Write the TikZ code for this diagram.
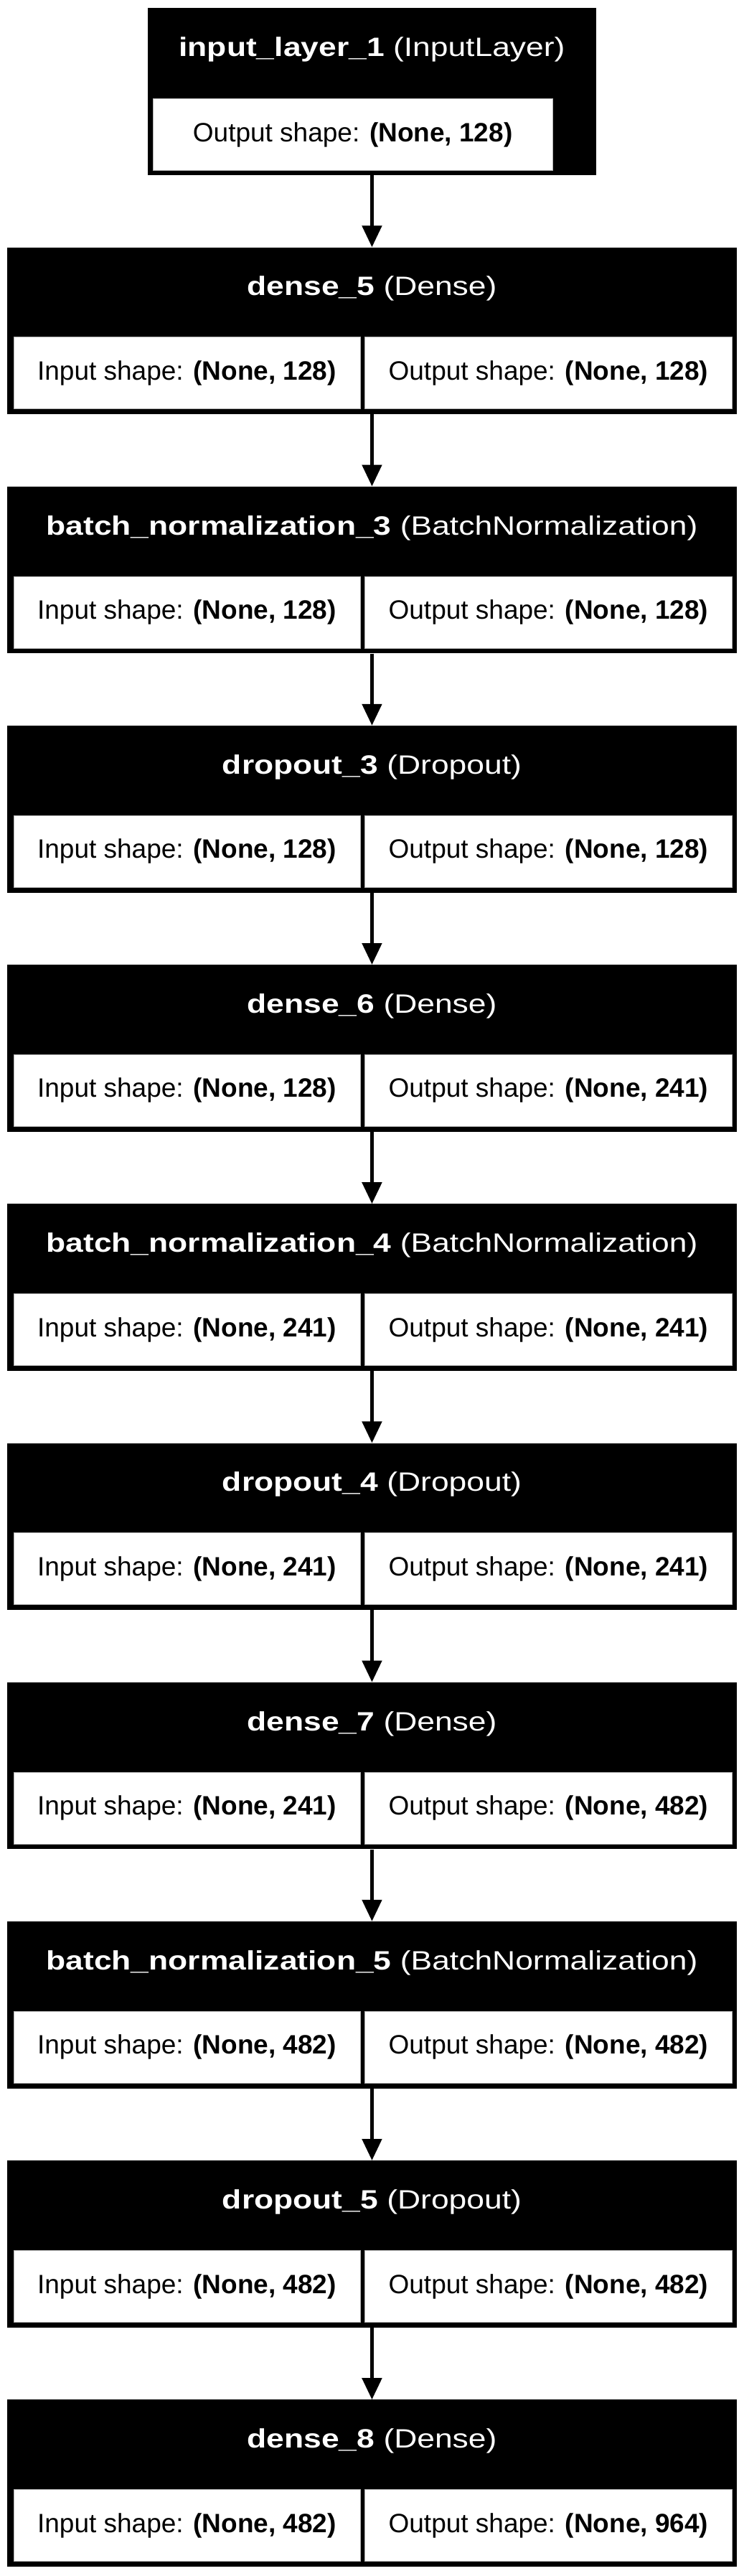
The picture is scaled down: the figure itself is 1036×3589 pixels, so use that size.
\documentclass[tikz,border=0pt]{standalone}
\usepackage{fontspec}
\setmainfont{Liberation Sans}
\usepackage{graphicx}
\usepackage{tikz}
\usetikzlibrary{calc,arrows.meta}

\newcommand{\lyrfont}{\fontsize{37}{44}\selectfont}
\newcommand{\shpfont}{\fontsize{37}{44}\selectfont}
\newcommand{\lyrname}[2]{\scalebox{1.2}[1]{\textbf{#1} (#2)}}

\tikzset{
  layerbox/.style={fill=black, inner sep=0pt, anchor=north west, minimum height=232.5pt},
  widebox/.style={layerbox, minimum width=1016.5pt},
  layername/.style={text=white, font=\lyrfont, inner sep=0pt},
  shapebox/.style={fill=white, draw=black!30, line width=0.8pt, inner sep=0pt,
    anchor=north west, minimum height=100pt, font=\shpfont},
  inbox/.style={shapebox, minimum width=483.2pt},
  outbox/.style={shapebox, minimum width=511.4pt},
  flow/.style={-{Triangle[length=30pt,width=27pt]}, line width=5pt}
}

\begin{document}
\begin{tikzpicture}[x=1pt,y=-1pt]
      \useasboundingbox (0,0) rectangle (1036,3589);

      \node[layerbox, minimum width=624.5pt] (L0) at (206,11.2) {};
      \node[layername] (T0) at ($(L0.north)+(0,58)$) {\lyrname{input\_layer\_1}{InputLayer}};
      \node[shapebox, minimum width=557pt] (O0) at ($(L0.north west)+(6.8,126)$)
        {Output shape: \textbf{(None, 128)}};

      \node[widebox] (L1) at (10,344.4) {};
      \node[layername] (T1) at ($(L1.north)+(0,58)$) {\lyrname{dense\_5}{Dense}};
      \node[inbox] (I1) at ($(L1.north west)+(8.5,125)$) {Input shape: \textbf{(None, 128)}};
      \node[outbox] (O1) at ($(L1.north west)+(498.3,125)$) {Output shape: \textbf{(None, 128)}};

      \node[widebox] (L2) at (10,677.6) {};
      \node[layername] (T2) at ($(L2.north)+(0,58)$) {\lyrname{batch\_normalization\_3}{BatchNormalization}};
      \node[inbox] (I2) at ($(L2.north west)+(8.5,125)$) {Input shape: \textbf{(None, 128)}};
      \node[outbox] (O2) at ($(L2.north west)+(498.3,125)$) {Output shape: \textbf{(None, 128)}};

      \node[widebox] (L3) at (10,1010.8) {};
      \node[layername] (T3) at ($(L3.north)+(0,58)$) {\lyrname{dropout\_3}{Dropout}};
      \node[inbox] (I3) at ($(L3.north west)+(8.5,125)$) {Input shape: \textbf{(None, 128)}};
      \node[outbox] (O3) at ($(L3.north west)+(498.3,125)$) {Output shape: \textbf{(None, 128)}};

      \node[widebox] (L4) at (10,1344.0) {};
      \node[layername] (T4) at ($(L4.north)+(0,58)$) {\lyrname{dense\_6}{Dense}};
      \node[inbox] (I4) at ($(L4.north west)+(8.5,125)$) {Input shape: \textbf{(None, 128)}};
      \node[outbox] (O4) at ($(L4.north west)+(498.3,125)$) {Output shape: \textbf{(None, 241)}};

      \node[widebox] (L5) at (10,1677.2) {};
      \node[layername] (T5) at ($(L5.north)+(0,58)$) {\lyrname{batch\_normalization\_4}{BatchNormalization}};
      \node[inbox] (I5) at ($(L5.north west)+(8.5,125)$) {Input shape: \textbf{(None, 241)}};
      \node[outbox] (O5) at ($(L5.north west)+(498.3,125)$) {Output shape: \textbf{(None, 241)}};

      \node[widebox] (L6) at (10,2010.4) {};
      \node[layername] (T6) at ($(L6.north)+(0,58)$) {\lyrname{dropout\_4}{Dropout}};
      \node[inbox] (I6) at ($(L6.north west)+(8.5,125)$) {Input shape: \textbf{(None, 241)}};
      \node[outbox] (O6) at ($(L6.north west)+(498.3,125)$) {Output shape: \textbf{(None, 241)}};

      \node[widebox] (L7) at (10,2343.6) {};
      \node[layername] (T7) at ($(L7.north)+(0,58)$) {\lyrname{dense\_7}{Dense}};
      \node[inbox] (I7) at ($(L7.north west)+(8.5,125)$) {Input shape: \textbf{(None, 241)}};
      \node[outbox] (O7) at ($(L7.north west)+(498.3,125)$) {Output shape: \textbf{(None, 482)}};

      \node[widebox] (L8) at (10,2676.8) {};
      \node[layername] (T8) at ($(L8.north)+(0,58)$) {\lyrname{batch\_normalization\_5}{BatchNormalization}};
      \node[inbox] (I8) at ($(L8.north west)+(8.5,125)$) {Input shape: \textbf{(None, 482)}};
      \node[outbox] (O8) at ($(L8.north west)+(498.3,125)$) {Output shape: \textbf{(None, 482)}};

      \node[widebox] (L9) at (10,3010.0) {};
      \node[layername] (T9) at ($(L9.north)+(0,58)$) {\lyrname{dropout\_5}{Dropout}};
      \node[inbox] (I9) at ($(L9.north west)+(8.5,125)$) {Input shape: \textbf{(None, 482)}};
      \node[outbox] (O9) at ($(L9.north west)+(498.3,125)$) {Output shape: \textbf{(None, 482)}};

      \node[widebox] (L10) at (10,3343.2) {};
      \node[layername] (T10) at ($(L10.north)+(0,58)$) {\lyrname{dense\_8}{Dense}};
      \node[inbox] (I10) at ($(L10.north west)+(8.5,125)$) {Input shape: \textbf{(None, 482)}};
      \node[outbox] (O10) at ($(L10.north west)+(498.3,125)$) {Output shape: \textbf{(None, 964)}};

      \path[flow] (L0.south) edge (L1.north) (L1.south) edge (L2.north)
      (L2.south) edge (L3.north) (L3.south) edge (L4.north)
      (L4.south) edge (L5.north) (L5.south) edge (L6.north)
      (L6.south) edge (L7.north) (L7.south) edge (L8.north)
      (L8.south) edge (L9.north) (L9.south) edge (L10.north);
    \end{tikzpicture}
\end{document}
